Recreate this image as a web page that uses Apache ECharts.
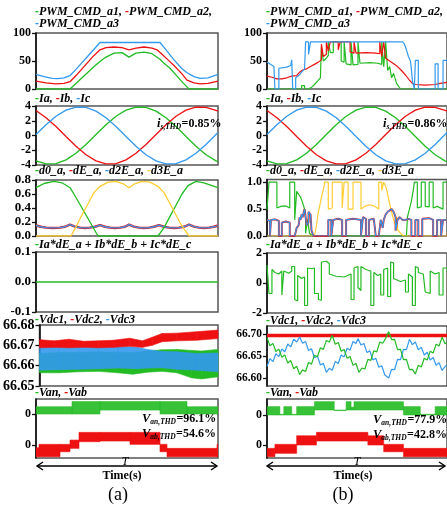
<!DOCTYPE html>
<html>
<head>
<meta charset="utf-8">
<title>waveforms</title>
<script src="https://cdn.jsdelivr.net/npm/echarts@6/dist/echarts.min.js"></script>
<style>html,body{margin:0;padding:0;background:#fff}#main{width:447px;height:508px}</style>
</head>
<body>
<div id="main"></div>
<script>
var G = '#22bb22', R = '#ee1111', B = '#3399ee', Y = '#ffcc33';
var SERIF = '"Liberation Serif", "DejaVu Serif", serif';

// time axis: 0..182 = one period T

// ---- (a) PWM commands
var l1A1 = [[0,0],[34,0],[40,10],[46,20],[52,30],[58,40],[64,49],[70,57],[78,64],[86,65],[93,57],[100,64],[108,66],[116,63],[124,53],[128,46],[134,37],[141,23],[147,11],[153,0],[182,0]];
var l1A2 = [[0,14],[10,11],[20,9],[28,10],[34,13],[40,24],[46,36],[52,48],[58,60],[64,70],[70,74],[78,75],[86,74],[93,70],[100,73],[108,75],[116,73],[121,70],[126,62],[132,52],[138,42],[146,27],[151,16],[158,11],[164,9],[172,10],[182,14]];
var l1A3 = [[0,26],[8,22],[16,19],[22,18.5],[28,20],[34,24],[40,35],[46,47],[52,59],[58,71],[64,83],[124,83],[130,70],[138,52],[145,38],[151,29],[158,22],[164,19],[172,20],[182,26]];

// phase currents (same in both cases)
var curX = [0,10,20,30,40,50,60,70,80,90,100,110,120,130,140,150,160,170,180,182];
var curA = [-3.44,-3.86,-3.81,-3.31,-2.40,-1.21,0.14,1.46,2.61,3.44,3.86,3.81,3.31,2.40,1.21,-0.14,-1.46,-2.61,-3.44,-3.56];
var curB = [3.40,2.40,1.21,-0.14,-1.46,-2.61,-3.44,-3.86,-3.81,-3.31,-2.40,-1.21,0.14,1.46,2.61,3.44,3.86,3.81,3.40,3.30];
var curC = [0.14,1.46,2.61,3.44,3.86,3.81,3.31,2.40,1.21,-0.14,-1.46,-2.61,-3.44,-3.86,-3.81,-3.31,-2.40,-1.21,0.14,0.40];

// (a) duty cycles
var l3D0 = [[0,0.69],[8,0.75],[18,0.78],[26,0.76],[34,0.69],[40,0.55],[46,0.40],[52,0.25],[58,0.10],[62,0],[122,0],[128,0.12],[134,0.28],[140,0.44],[146,0.60],[152,0.72],[160,0.78],[168,0.76],[176,0.72],[182,0.69]];
var l3D3E = [[0,0],[35,0],[40,0.13],[46,0.30],[52,0.46],[58,0.62],[64,0.71],[72,0.77],[80,0.78],[88,0.74],[93,0.69],[98,0.74],[106,0.78],[114,0.77],[122,0.71],[128,0.62],[134,0.46],[140,0.30],[146,0.14],[153,0],[182,0]];
var l3DE = [[0,0.15],[1,0.155],[5,0.132],[10,0.12],[17,0.115],[24,0.12],[29,0.132],[34,0.162],[39,0.135],[44,0.12],[49,0.115],[54,0.12],[59,0.132],[64,0.155],[69,0.132],[74,0.12],[79,0.115],[84,0.12],[89,0.132],[93,0.162],[98,0.135],[103,0.12],[108,0.115],[113,0.12],[118,0.132],[123,0.155],[128,0.132],[133,0.12],[138,0.115],[143,0.12],[148,0.132],[153,0.162],[158,0.135],[163,0.12],[168,0.115],[173,0.12],[178,0.132],[182,0.15]];

var l4Sum = [[0,0],[182,0]];

// (a) capacitor voltages: band x, low, high
var l5RedX = [0,15,30,45,60,75,92,105,115,125,140,160,182];
var l5RedLo = [66.6688,66.6690,66.6688,66.6690,66.6688,66.6690,66.6695,66.6690,66.6700,66.6718,66.6722,66.6725,66.6733];
var l5RedHi = [66.6728,66.6722,66.6730,66.6720,66.6722,66.6725,66.6735,66.6722,66.6740,66.6758,66.6760,66.6767,66.6775];
var l5BlueX = [0,20,40,60,80,100,110,125,140,160,182];
var l5BlueLo = [66.6578,66.6580,66.6582,66.6585,66.6588,66.6585,66.6588,66.6590,66.6582,66.6578,66.6570];
var l5BlueHi = [66.6695,66.6690,66.6700,66.6690,66.6695,66.6690,66.6680,66.6670,66.6668,66.6660,66.6662];
var l5GreenX = [0,20,40,60,80,95,110,125,140,155,165,182];
var l5GreenLo = [66.6565,66.6565,66.6570,66.6572,66.6565,66.6558,66.6568,66.6572,66.6565,66.6540,66.6535,66.6545];
var l5GreenHi = [66.6660,66.6665,66.6665,66.6668,66.6665,66.6665,66.6672,66.6678,66.6680,66.6675,66.6672,66.6680];

// (a) output voltages: segment edges, low, high (V)
var l6VanX = [0,36,64,124,151,182];
var l6VanLo = [0,0,40,0,0];
var l6VanHi = [75,128,128,128,75];
var l6VabX = [0,3,24,34,43,64,94,124,131,181,182];
var l6VabLo = [-120,-120,-69,-34,34,41,7,-69,-120,-120];
var l6VabHi = [-28,7,7,51,130,130,130,7,-34,7];

// ---- (b) PWM commands
var r1A1 = [[0,0],[35,0],[35,6],[38,6],[38,0],[42,0],[45,3],[48,8],[50,12],[52,16],[54,20],[55,20],[55,75],[57,75],[57,50],[60,55],[62,60],[62,84],[64,84],[64,65],[67,65],[67,84],[75,84],[75,50],[78,48],[78,84],[80,84],[80,45],[85,43],[85,84],[87,84],[87,43],[92,44],[92,84],[94,84],[94,46],[104,47],[112,46],[116,44],[116,84],[118,84],[118,40],[120,40],[120,84],[122,84],[122,33],[124,30],[124,40],[126,38],[126,20],[128,20],[128,28],[130,26],[131,10],[135,0],[182,0]];
var r1A2 = [[0,23],[5,21],[10,18],[15,18],[20,20],[25,23],[27,22],[30,24],[33,30],[36,34],[40,36],[44,40],[48,44],[52,48],[55,52],[55,80],[57,80],[57,58],[60,62],[60,84],[62,84],[62,68],[64,68],[64,84],[72,84],[72,70],[74,70],[74,84],[84,84],[84,66],[88,64],[88,84],[90,84],[90,64],[100,65],[110,64],[114,63],[114,84],[116,84],[116,58],[118,58],[118,84],[120,84],[120,55],[124,50],[126,48],[128,45],[132,40],[136,33],[140,25],[144,16],[147,10],[150,8],[160,7],[170,8],[175,10],[182,12]];
var r1A3 = [[0,48],[7,40],[8,40],[8,0],[12,0],[12,37],[20,39],[24,42],[25,52],[26,52],[26,0],[29,0],[29,20],[32,24],[35,30],[38,36],[39,36],[39,84],[42,84],[42,62],[44,62],[44,84],[137,84],[139,80],[141,70],[143,58],[145,50],[146,35],[147,35],[147,15],[149,12],[149,0],[150,0],[150,51],[153,51],[153,0],[170,0],[170,45],[173,45],[173,0],[178,0],[178,51],[182,51]];

// (b) duty cycles
var r3D0 = [[0,0.49],[2,0.49],[2,1.0],[10,1.0],[10,0.52],[14,0.55],[17,0.56],[20,0.55],[23,0.52],[23,1.0],[28,1.0],[28,0.3],[30,0.28],[30,0.83],[32,0.8],[34,0.72],[36,0.62],[38,0.5],[39,0.4],[39,0.05],[41,0.05],[41,0.31],[43,0.3],[43,0.05],[45,0.05],[46,0],[141,0],[142,0.35],[144,0.5],[146,0.65],[148,0.86],[149,0.86],[149,1.0],[152,1.0],[152,0.52],[156,0.54],[156,1.0],[160,1.0],[160,0.55],[164,0.54],[164,1.0],[168,1.0],[168,0.52],[172,0.55],[178,0.5],[178,1.0],[182,1.0]];
var r3D3E = [[0,0],[48,0],[50,0.2],[52,0.45],[54,0.62],[56,0.8],[57,0.86],[58,0.95],[58,1.0],[62,1.0],[62,0.5],[66,0.52],[66,1.0],[76,1.0],[76,0.52],[78,0.5],[78,1.0],[82,1.0],[82,0.5],[87,0.5],[87,1.0],[95,1.0],[95,0.5],[100,0.56],[104,0.58],[108,0.56],[113,0.5],[113,1.0],[116,1.0],[116,0.85],[118,0.85],[118,1.0],[120,0.93],[122,0.78],[124,0.6],[126,0.45],[128,0.3],[130,0.2],[131,0.35],[132,0.12],[135,0.05],[138,0],[182,0]];
var r3DE = [[0,0.30],[3,0.28],[3,0],[4,0],[4,0.3],[8,0.31],[12,0.28],[12,0],[15,0],[15,0.25],[19,0.27],[23,0.25],[23,0],[28,0],[30,0.15],[32,0.2],[33,0.35],[34,0.3],[35,0.4],[36,0.35],[38,0.5],[40,0.48],[40,0.2],[42,0.25],[42,0.45],[44,0.4],[45,0.1],[47,0],[62,0],[62,0.3],[65,0.3],[65,0],[67,0],[67,0.3],[72,0.32],[76,0.3],[76,0],[80,0],[80,0.3],[87,0.32],[95,0.3],[95,0],[97,0],[97,0.35],[100,0.32],[100,0],[103,0],[103,0.3],[108,0.32],[110,0.3],[110,0],[113,0],[115,0.3],[117,0.15],[118,0.3],[120,0.4],[122,0.45],[124,0.48],[126,0.5],[128,0.45],[130,0.35],[130,0.1],[132,0.3],[134,0.35],[137,0.3],[140,0.3],[143,0.32],[146,0.3],[146,0],[150,0],[150,0.3],[153,0.3],[153,0],[157,0],[157,0.32],[164,0.33],[168,0.3],[168,0],[172,0],[172,0.3],[176,0.3],[176,0],[178,0],[178,0.3],[182,0.3]];

var r4Sum = [[0,1.2],[2,1.2],[2,-0.7],[5,-0.7],[5,0.9],[8,0.7],[12,0.6],[15,0.8],[15,-0.8],[17,-0.8],[17,0.8],[22,0.65],[25,0.8],[25,1.1],[28,1.1],[28,-1.1],[31,-1.2],[31,0.5],[35,0.3],[38,0.4],[38,-1.5],[41,-1.5],[41,1.0],[45,0.95],[48,1.0],[48,-0.7],[52,-0.7],[52,-1.1],[55,-1.15],[55,1.4],[60,1.45],[63,1.3],[63,0.6],[70,0.45],[78,0.4],[85,0.6],[85,-1.1],[88,-1.1],[88,1.0],[92,1.1],[92,-0.3],[95,-0.5],[95,1.1],[100,0.9],[105,0.8],[105,-1.5],[108,-1.5],[108,0.7],[112,0.5],[115,0.6],[115,-0.8],[118,-0.8],[118,0.9],[122,1.0],[122,-0.9],[125,-0.9],[125,1.4],[128,1.35],[128,0.3],[135,0.1],[140,0.2],[140,-0.6],[143,-0.6],[143,0.6],[147,0.4],[147,-1.5],[150,-1.5],[150,1.1],[153,1.0],[153,0.7],[158,0.6],[160,0.7],[160,-0.6],[165,-0.7],[165,0.8],[170,0.6],[174,0.7],[174,-0.8],[178,-0.8],[178,1.0],[182,1.0]];

// (b) capacitor voltages
var r5Vdc1 = [[0,66.6916],[3,66.6731],[6,66.6786],[9,66.6601],[12,66.6656],[15,66.6471],[18,66.6526],[21,66.6341],[24,66.6396],[27,66.6211],[30,66.6266],[33,66.6081],[36,66.6186],[39,66.6149],[42,66.6353],[45,66.6316],[48,66.6519],[51,66.6483],[54,66.6686],[57,66.6650],[60,66.6853],[63,66.6816],[66,66.6965],[69,66.6766],[72,66.6806],[75,66.6607],[78,66.6647],[81,66.6448],[84,66.6488],[87,66.6288],[90,66.6329],[93,66.6129],[96,66.6228],[99,66.6206],[102,66.6423],[105,66.6400],[108,66.6618],[111,66.6595],[114,66.6813],[117,66.6790],[120,66.6900],[123,66.7050],[126,66.6871],[129,66.6878],[132,66.6644],[135,66.6650],[138,66.6417],[141,66.6423],[144,66.6190],[147,66.6196],[150,66.6091],[153,66.6291],[156,66.6250],[159,66.6450],[162,66.6410],[165,66.6609],[168,66.6569],[171,66.6768],[174,66.6728],[177,66.6928],[180,66.6780],[182,66.6800]];
var r5Vdc2 = [[0,66.6965],[182,66.6965]];
var r5Vdc3 = [[0,66.6265],[3,66.6440],[6,66.6375],[9,66.6551],[12,66.6486],[15,66.6661],[18,66.6596],[21,66.6771],[24,66.6706],[27,66.6882],[30,66.6817],[33,66.6932],[36,66.6790],[39,66.6827],[42,66.6625],[45,66.6663],[48,66.6460],[51,66.6498],[54,66.6296],[57,66.6333],[60,66.6131],[63,66.6221],[66,66.6177],[69,66.6373],[72,66.6329],[75,66.6525],[78,66.6480],[81,66.6676],[84,66.6632],[87,66.6828],[90,66.6783],[92,66.6894],[95,66.6750],[98,66.6785],[101,66.6581],[104,66.6616],[107,66.6412],[110,66.6448],[113,66.6243],[116,66.6279],[119,66.6074],[123,66.6000],[126,66.6196],[129,66.6189],[132,66.6423],[135,66.6417],[138,66.6650],[141,66.6644],[144,66.6878],[147,66.6757],[150,66.6818],[153,66.6640],[156,66.6701],[159,66.6523],[162,66.6584],[165,66.6406],[168,66.6467],[171,66.6289],[174,66.6350],[177,66.6172],[180,66.6260],[182,66.6300]];

// (b) output voltages
var r6VanX = [0,13,17,25,30,48,68,80,85,88,138,155,170,182];
var r6VanLo = [0,0,0,0,0,51,45,51,51,51,0,0,0];
var r6VanHi = [86,7,86,7,86,137,51,137,80,137,86,7,86];
var r6VabX = [0,8,30,50,102,118,138,182];
var r6VabLo = [-120,-85,0,41,0,-69,-120];
var r6VabHi = [-34,7,95,130,95,7,-34];

// ---- layout of the 12 panels
var panels = [
  {left:36, top:33, h:56, min:0, max:100, ticks:[0,50,100], dec:0},
  {left:36, top:106, h:59, min:-4, max:4, ticks:[-4,-2,0,2,4], dec:0},
  {left:36, top:180, h:56, min:0, max:0.8, ticks:[0,0.2,0.4,0.6,0.8], dec:1, fs:13},
  {left:36, top:252, h:60, min:-0.1, max:0.1, ticks:[-0.1,0,0.1], dec:1, fs:13},
  {left:36, top:325, h:61, min:66.65, max:66.68, ticks:[66.65,66.66,66.67,66.68], dec:2, fs:14},
  {left:36, top:399, h:59, min:-451, max:154, ticks:[0], dec:0},
  {left:267, top:33, h:56, min:0, max:100, ticks:[0,50,100], dec:0},
  {left:267, top:106, h:59, min:-4, max:4, ticks:[-4,-2,0,2,4], dec:0},
  {left:267, top:179.5, h:56.5, min:0, max:1.05, ticks:[0,0.5,1], dec:1},
  {left:267, top:253, h:60, min:-2, max:2, ticks:[-2,0,2], dec:0},
  {left:267, top:326, h:60, min:66.582, max:66.718, ticks:[66.6,66.65,66.7], dec:2, fs:11.5},
  {left:267, top:399, h:59, min:-441, max:164, ticks:[0], dec:0}
];

function yAx(gi, p, min, max, ticks, noLine) {
  return {
    type:'value', gridIndex:gi, position:'left', min:min, max:max, splitLine:{show:false},
    axisLine:{show:!noLine, onZero:false, lineStyle:{color:'#111', width:1.6}},
    axisTick:{show:true, inside:false, length:4, customValues:ticks, lineStyle:{color:'#111', width:1.3}},
    axisLabel:{customValues:ticks, margin:5, color:'#000', fontFamily:SERIF, fontWeight:'bold', fontSize:p.fs || 12,
      formatter:function(v){ return Math.abs(v) < 1e-9 ? (0).toFixed(p.dec) : (+v).toFixed(p.dec); }}
  };
}

var grids = [], xAxes = [], yAxes = [];
panels.forEach(function(p, i){
  grids.push({left:p.left, top:p.top, width:182, height:p.h, show:true, borderColor:'#555', borderWidth:1.5});
  xAxes.push({type:'value', gridIndex:i, min:0, max:182, show:false});
  yAxes.push(yAx(i, p, p.min, p.max, p.ticks));
});
// second y axes for Vab, on the same left side
yAxes.push(yAx(5, {dec:0}, -133, 472, [0], true));
yAxes.push(yAx(11, {dec:0}, -133, 472, [0], true));

function line(gi, data, color, w, z) {
  return {type:'line', xAxisIndex:gi, yAxisIndex:gi, data:data, symbol:'none', animation:false, silent:true,
    lineStyle:{color:color, width:w || 1.3}, itemStyle:{color:color}, z:z || 2};
}
function pairs(xs, ys) { return xs.map(function(x, i){ return [x, ys[i]]; }); }

// band between low/high; step = values held over each segment
function band(gi, yi, xs, lo, hi, color, step, op) {
  var data = [];
  for (var i = 0; i < xs.length - 1; i++) {
    if (step) data.push([xs[i], xs[i+1], lo[i], lo[i], hi[i], hi[i]]);
    else data.push([xs[i], xs[i+1], lo[i], lo[i+1], hi[i], hi[i+1]]);
  }
  return {type:'custom', coordinateSystem:'cartesian2d', xAxisIndex:gi, yAxisIndex:yi, data:data, animation:false, silent:true,
    encode:{x:[0,1], y:[2,3,4,5]}, clip:true,
    renderItem:function(params, api){
      var pts = [api.coord([api.value(0), api.value(2)]), api.coord([api.value(1), api.value(3)]),
                 api.coord([api.value(1), api.value(5)]), api.coord([api.value(0), api.value(4)])];
      return {type:'polygon', shape:{points:pts}, style:{fill:color, stroke:color, lineWidth:0.6, opacity:op || 1}};
    }};
}

var series = [
  line(0, l1A1, G), line(0, l1A2, R), line(0, l1A3, B),
  line(1, pairs(curX, curA), G), line(1, pairs(curX, curB), R), line(1, pairs(curX, curC), B),
  line(2, l3DE, R, 2.4), line(2, l3DE, B, 1.3), line(2, l3D0, G), line(2, l3D3E, Y),
  line(3, l4Sum, G, 1.5),
  band(4, 4, l5GreenX, l5GreenLo, l5GreenHi, G), band(4, 4, l5BlueX, l5BlueLo, l5BlueHi, B, false, 0.9), band(4, 4, l5RedX, l5RedLo, l5RedHi, R),
  band(5, 5, l6VanX, l6VanLo, l6VanHi, G, true, 0.9), band(5, 12, l6VabX, l6VabLo, l6VabHi, R, true),
  line(6, r1A1, G, 1.2), line(6, r1A2, R, 1.2), line(6, r1A3, B, 1.2),
  line(7, pairs(curX, curA), G), line(7, pairs(curX, curB), R), line(7, pairs(curX, curC), B),
  line(8, r3D0, G, 1.2), line(8, r3D3E, Y, 1.2), line(8, r3DE, R, 1.9), line(8, r3DE, B, 1.2),
  line(9, r4Sum, G, 1.2),
  line(10, r5Vdc2, R, 3.5), line(10, r5Vdc3, B, 1.2), line(10, r5Vdc1, G, 1.2),
  band(11, 11, r6VanX, r6VanLo, r6VanHi, G, true, 0.9), band(11, 13, r6VabX, r6VabLo, r6VabHi, R, true)
];

// ---- texts
var LEG = 'italic bold 12px ' + SERIF;
var ctx = document.createElement('canvas').getContext('2d');
function tw(font, s) { ctx.font = font; return ctx.measureText(s).width; }
// legend line: pairs of [colour, label]; the dash takes the series colour
function legend(x, y, items) {
  var out = [], cx = x;
  items.forEach(function(it, k){
    var parts = [[it[0], '-'], ['#000', it[1] + (k < items.length - 1 ? it[2] || ', ' : it[2] || '')]];
    parts.forEach(function(p){
      out.push({type:'text', x:cx, y:y, z:100, style:{text:p[1], font:LEG, fill:p[0], verticalAlign:'middle'}});
      cx += tw(LEG, p[1]);
    });
  });
  return out;
}
function sub(x, y, main, lo, rest) {
  var f1 = 'italic bold 12.5px ' + SERIF, f2 = 'italic bold 7.5px ' + SERIF, f3 = 'bold 12px ' + SERIF;
  var w1 = tw(f1, main), w2 = tw(f2, lo);
  return [
    {type:'text', x:x, y:y, z:100, style:{text:main, font:f1, fill:'#000', verticalAlign:'middle'}},
    {type:'text', x:x + w1, y:y + 3, z:100, style:{text:lo, font:f2, fill:'#000', verticalAlign:'middle'}},
    {type:'text', x:x + w1 + w2 + 0.5, y:y, z:100, style:{text:rest, font:f3, fill:'#000', verticalAlign:'middle'}}
  ];
}
function arrow(x1, x2, y, tx) {
  var ls = {stroke:'#000', lineWidth:1.4, fill:null};
  return [
    {type:'line', z:100, shape:{x1:x1, y1:y, x2:x2, y2:y}, style:ls},
    {type:'polyline', z:100, shape:{points:[[x1 + 6, y - 4],[x1, y],[x1 + 6, y + 4]]}, style:ls},
    {type:'polyline', z:100, shape:{points:[[x2 - 6, y - 4],[x2, y],[x2 - 6, y + 4]]}, style:ls},
    {type:'text', x:tx, y:y - 4, z:101, style:{text:'T', font:'italic 12px ' + SERIF, fill:'#000', align:'center', verticalAlign:'middle'}}
  ];
}
function plain(x, y, text, font) {
  return {type:'text', x:x, y:y, z:100, style:{text:text, font:font, fill:'#000', align:'center', verticalAlign:'middle'}};
}

var graphics = [];
[[35, 319.5], [266, 321]].forEach(function(c){
  var x = c[0];
  graphics = graphics.concat(
    legend(x, 12, [[G, 'PWM_CMD_a1'], [R, 'PWM_CMD_a2', ',']]),
    legend(x, 23.5, [[B, 'PWM_CMD_a3']]),
    legend(x, 98.5, [[G, 'Ia'], [R, 'Ib'], [B, 'Ic']]),
    legend(x, 171, [[G, 'd0_a'], [R, 'dE_a'], [B, 'd2E_a'], [Y, 'd3E_a']]),
    legend(x, 245, [[G, 'Ia*dE_a + Ib*dE_b + Ic*dE_c']]),
    legend(x, c[1], [[G, 'Vdc1'], [R, 'Vdc2'], [B, 'Vdc3']]),
    legend(x, 392.5, [[G, 'Van'], [R, 'Vab']])
  );
});
graphics = graphics.concat(
  sub(157, 124, 'i', 's,THD', '=0.85%'),
  sub(383, 124, 'i', 's,THD', '=0.86%'),
  sub(142, 419, 'V', 'an,THD', '=96.1%'),
  sub(142, 434, 'V', 'ab,THD', '=54.6%'),
  sub(373, 420, 'V', 'an,THD', '=77.9%'),
  sub(373, 435, 'V', 'ab,THD', '=42.8%'),
  arrow(37, 217, 466, 125),
  arrow(267, 445, 466, 357),
  [plain(122, 476, 'Time(s)', 'bold 12px ' + SERIF), plain(353, 476, 'Time(s)', 'bold 12px ' + SERIF),
   plain(118, 495, '(a)', '18px ' + SERIF), plain(343, 495, '(b)', '18px ' + SERIF)]
);

var chart = echarts.init(document.getElementById('main'), null, {renderer:'canvas'});
chart.setOption({
  animation:false,
  backgroundColor:'#fff',
  grid:grids, xAxis:xAxes, yAxis:yAxes,
  series:series,
  graphic:{elements:graphics}
});
</script>
</body>
</html>
